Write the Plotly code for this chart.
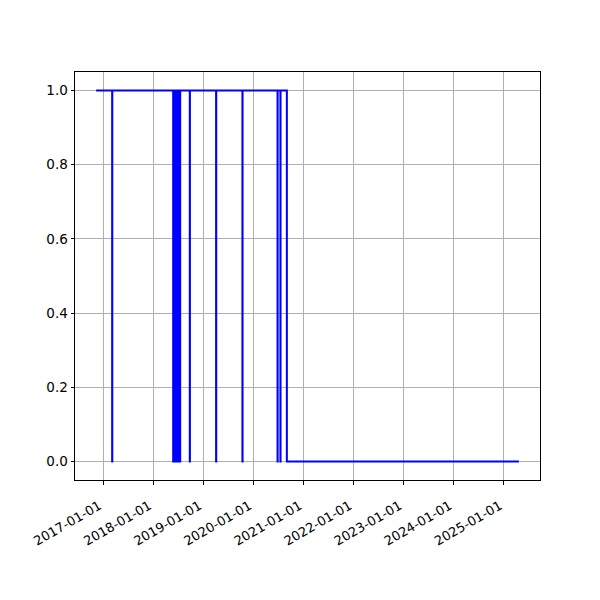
import plotly.graph_objects as go

# State change points (value holds until the next change)
change_dates = [
    "2016-11-10",
    "2017-03-07", "2017-03-08",
    "2018-05-26", "2018-05-27", "2018-05-31", "2018-06-01", "2018-06-05", "2018-06-06",
    "2018-06-10", "2018-06-11", "2018-06-15", "2018-06-16", "2018-06-20", "2018-06-21",
    "2018-06-25", "2018-06-26", "2018-06-30", "2018-07-01", "2018-07-05", "2018-07-06",
    "2018-07-10", "2018-07-11", "2018-07-15", "2018-07-16",
    "2018-09-24", "2018-09-25",
    "2019-04-04", "2019-04-05",
    "2019-10-13", "2019-10-14",
    "2020-06-25", "2020-06-26",
    "2020-07-16", "2020-07-17",
    "2020-09-01",
    "2025-04-20",
]
change_values = [
    1,
    0, 1,
    0, 1, 0, 1, 0, 1,
    0, 1, 0, 1, 0, 1,
    0, 1, 0, 1, 0, 1,
    0, 1, 0, 1,
    0, 1,
    0, 1,
    0, 1,
    0, 1,
    0, 1,
    0,
    0,
]

x_ticks = ["2017-01-01", "2018-01-01", "2019-01-01", "2020-01-01", "2021-01-01",
           "2022-01-01", "2023-01-01", "2024-01-01", "2025-01-01"]
y_ticks = [0.0, 0.2, 0.4, 0.6, 0.8, 1.0]

fig = go.Figure()
fig.add_trace(go.Scatter(
    x=change_dates, y=change_values, mode="lines",
    line=dict(color="#0000ff", width=2, shape="hv"),
    showlegend=False,
))

axis_common = dict(
    showline=True, mirror=True, linecolor="black", linewidth=1,
    showgrid=True, gridcolor="#b0b0b0", gridwidth=0.8,
    ticks="outside", ticklen=3.5, tickwidth=0.8, tickcolor="black",
    zeroline=False,
)

fig.update_layout(
    width=600, height=600,
    paper_bgcolor="white", plot_bgcolor="white",
    margin=dict(l=67, r=68, t=64, b=128),
    xaxis=dict(
        type="date", range=["2016-06-09", "2025-09-21"],
        tickvals=x_ticks, ticktext=x_ticks, tickangle=-30,
        tickfont=dict(family="DejaVu Sans", size=13, color="black"),
        ticklabelstandoff=9, ticklabelshift=-4,
        **axis_common,
    ),
    yaxis=dict(
        range=[-0.05, 1.05], tickvals=y_ticks, tickformat=".1f",
        tickfont=dict(family="DejaVu Sans", size=13.5, color="black"),
        **axis_common,
    ),
)

fig.write_html("out.html")
